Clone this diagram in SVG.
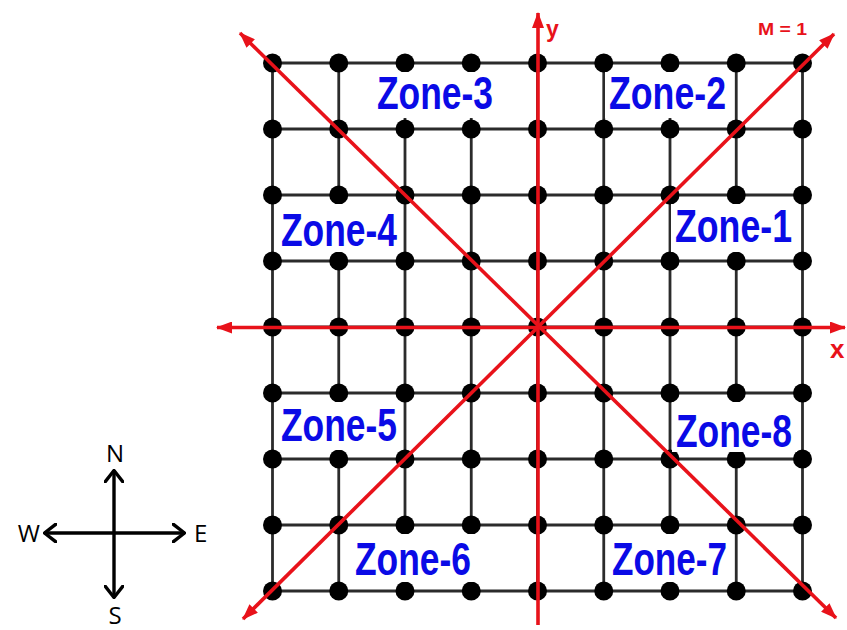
<svg xmlns="http://www.w3.org/2000/svg" width="847" height="630" viewBox="0 0 847 630">
<style>
.grid line{stroke:#2b2b2b;stroke-width:2.8}
.dots circle{fill:#000}
.zone rect{fill:#fff}
.zone text{font-family:"Liberation Sans",Arial,sans-serif;font-size:46px;font-weight:bold;fill:#0a0ae6}
.red{stroke:#e8121a;stroke-width:3.6;fill:none}
.rt{font-family:"Liberation Sans",Arial,sans-serif;font-weight:bold;fill:#e8121a}
.cmp{stroke:#000;stroke-width:3.4;fill:none}
.ct{font-family:"Open Sans","Noto Sans",sans-serif;font-size:24px;fill:#000}
</style>
<defs>
<marker id="ra" viewBox="0 0 16 12" refX="15" refY="6" markerWidth="16" markerHeight="12" markerUnits="userSpaceOnUse" orient="auto-start-reverse">
<path d="M0,0 L16,6 L0,12 Z" fill="#e8121a"/>
</marker>
<marker id="ca" viewBox="0 0 14 20" refX="13" refY="10" markerWidth="14" markerHeight="20" markerUnits="userSpaceOnUse" orient="auto-start-reverse">
<path d="M1,1 L12.5,10 L1,19" fill="none" stroke="#000" stroke-width="3.4" stroke-linecap="round" stroke-linejoin="round"/>
</marker>
</defs>
<rect width="847" height="630" fill="#fff"/>
<g class="grid" id="grid">
<line x1="272.5" y1="63" x2="802.5" y2="63"/>
<line x1="272.5" y1="129" x2="802.5" y2="129"/>
<line x1="272.5" y1="195" x2="802.5" y2="195"/>
<line x1="272.5" y1="261" x2="802.5" y2="261"/>
<line x1="272.5" y1="327" x2="802.5" y2="327"/>
<line x1="272.5" y1="393" x2="802.5" y2="393"/>
<line x1="272.5" y1="459" x2="802.5" y2="459"/>
<line x1="272.5" y1="525" x2="802.5" y2="525"/>
<line x1="272.5" y1="591" x2="802.5" y2="591"/>
<line x1="272.5" y1="63" x2="272.5" y2="591"/>
<line x1="338.75" y1="63" x2="338.75" y2="591"/>
<line x1="405" y1="63" x2="405" y2="591"/>
<line x1="471.25" y1="63" x2="471.25" y2="591"/>
<line x1="537.5" y1="63" x2="537.5" y2="591"/>
<line x1="603.75" y1="63" x2="603.75" y2="591"/>
<line x1="670" y1="63" x2="670" y2="591"/>
<line x1="736.25" y1="63" x2="736.25" y2="591"/>
<line x1="802.5" y1="63" x2="802.5" y2="591"/>
</g>
<g class="dots" id="dots">
<circle cx="272.5" cy="63" r="9.5"/><circle cx="338.75" cy="63" r="9.5"/><circle cx="405" cy="63" r="9.5"/><circle cx="471.25" cy="63" r="9.5"/><circle cx="537.5" cy="63" r="9.5"/><circle cx="603.75" cy="63" r="9.5"/><circle cx="670" cy="63" r="9.5"/><circle cx="736.25" cy="63" r="9.5"/><circle cx="802.5" cy="63" r="9.5"/>
<circle cx="272.5" cy="129" r="9.5"/><circle cx="338.75" cy="129" r="9.5"/><circle cx="405" cy="129" r="9.5"/><circle cx="471.25" cy="129" r="9.5"/><circle cx="537.5" cy="129" r="9.5"/><circle cx="603.75" cy="129" r="9.5"/><circle cx="670" cy="129" r="9.5"/><circle cx="736.25" cy="129" r="9.5"/><circle cx="802.5" cy="129" r="9.5"/>
<circle cx="272.5" cy="195" r="9.5"/><circle cx="338.75" cy="195" r="9.5"/><circle cx="405" cy="195" r="9.5"/><circle cx="471.25" cy="195" r="9.5"/><circle cx="537.5" cy="195" r="9.5"/><circle cx="603.75" cy="195" r="9.5"/><circle cx="670" cy="195" r="9.5"/><circle cx="736.25" cy="195" r="9.5"/><circle cx="802.5" cy="195" r="9.5"/>
<circle cx="272.5" cy="261" r="9.5"/><circle cx="338.75" cy="261" r="9.5"/><circle cx="405" cy="261" r="9.5"/><circle cx="471.25" cy="261" r="9.5"/><circle cx="537.5" cy="261" r="9.5"/><circle cx="603.75" cy="261" r="9.5"/><circle cx="670" cy="261" r="9.5"/><circle cx="736.25" cy="261" r="9.5"/><circle cx="802.5" cy="261" r="9.5"/>
<circle cx="272.5" cy="327" r="9.5"/><circle cx="338.75" cy="327" r="9.5"/><circle cx="405" cy="327" r="9.5"/><circle cx="471.25" cy="327" r="9.5"/><circle cx="537.5" cy="327" r="9.5"/><circle cx="603.75" cy="327" r="9.5"/><circle cx="670" cy="327" r="9.5"/><circle cx="736.25" cy="327" r="9.5"/><circle cx="802.5" cy="327" r="9.5"/>
<circle cx="272.5" cy="393" r="9.5"/><circle cx="338.75" cy="393" r="9.5"/><circle cx="405" cy="393" r="9.5"/><circle cx="471.25" cy="393" r="9.5"/><circle cx="537.5" cy="393" r="9.5"/><circle cx="603.75" cy="393" r="9.5"/><circle cx="670" cy="393" r="9.5"/><circle cx="736.25" cy="393" r="9.5"/><circle cx="802.5" cy="393" r="9.5"/>
<circle cx="272.5" cy="459" r="9.5"/><circle cx="338.75" cy="459" r="9.5"/><circle cx="405" cy="459" r="9.5"/><circle cx="471.25" cy="459" r="9.5"/><circle cx="537.5" cy="459" r="9.5"/><circle cx="603.75" cy="459" r="9.5"/><circle cx="670" cy="459" r="9.5"/><circle cx="736.25" cy="459" r="9.5"/><circle cx="802.5" cy="459" r="9.5"/>
<circle cx="272.5" cy="525" r="9.5"/><circle cx="338.75" cy="525" r="9.5"/><circle cx="405" cy="525" r="9.5"/><circle cx="471.25" cy="525" r="9.5"/><circle cx="537.5" cy="525" r="9.5"/><circle cx="603.75" cy="525" r="9.5"/><circle cx="670" cy="525" r="9.5"/><circle cx="736.25" cy="525" r="9.5"/><circle cx="802.5" cy="525" r="9.5"/>
<circle cx="272.5" cy="591" r="9.5"/><circle cx="338.75" cy="591" r="9.5"/><circle cx="405" cy="591" r="9.5"/><circle cx="471.25" cy="591" r="9.5"/><circle cx="537.5" cy="591" r="9.5"/><circle cx="603.75" cy="591" r="9.5"/><circle cx="670" cy="591" r="9.5"/><circle cx="736.25" cy="591" r="9.5"/><circle cx="802.5" cy="591" r="9.5"/>
</g>
<g class="zone" id="zone-3"><rect x="373" y="72" width="125" height="46"/><text x="377" y="109" textLength="116" lengthAdjust="spacingAndGlyphs">Zone-3</text></g>
<g class="zone" id="zone-2"><rect x="605" y="72" width="126" height="46"/><text x="609" y="109" textLength="117" lengthAdjust="spacingAndGlyphs">Zone-2</text></g>
<g class="zone" id="zone-4"><rect x="276" y="204" width="125" height="48"/><text x="281" y="246" textLength="116" lengthAdjust="spacingAndGlyphs">Zone-4</text></g>
<g class="zone" id="zone-1"><rect x="671" y="204" width="125" height="48"/><text x="675" y="242" textLength="117" lengthAdjust="spacingAndGlyphs">Zone-1</text></g>
<g class="zone" id="zone-5"><rect x="277" y="402" width="125" height="48"/><text x="281" y="441" textLength="116" lengthAdjust="spacingAndGlyphs">Zone-5</text></g>
<g class="zone" id="zone-8"><rect x="672" y="402" width="125" height="50"/><text x="676" y="447" textLength="116" lengthAdjust="spacingAndGlyphs">Zone-8</text></g>
<g class="zone" id="zone-6"><rect x="351" y="534" width="125" height="48"/><text x="355" y="575" textLength="116" lengthAdjust="spacingAndGlyphs">Zone-6</text></g>
<g class="zone" id="zone-7"><rect x="607" y="534" width="126" height="48"/><text x="612" y="575" textLength="115" lengthAdjust="spacingAndGlyphs">Zone-7</text></g>
<g id="connectors">
<line class="red" x1="217" y1="327.5" x2="845" y2="327.5" marker-start="url(#ra)" marker-end="url(#ra)"/>
<line class="red" x1="538" y1="625" x2="538" y2="13" marker-end="url(#ra)"/>
<line class="red" x1="836" y1="618" x2="240" y2="33" marker-start="url(#ra)" marker-end="url(#ra)"/>
<line class="red" x1="243" y1="619" x2="834" y2="34" marker-start="url(#ra)" marker-end="url(#ra)"/>
</g>
<text class="rt" x="546" y="37" font-size="23">y</text>
<text class="rt" x="830" y="358" font-size="26">x</text>
<text class="rt" x="758" y="35" font-size="17" textLength="49" lengthAdjust="spacingAndGlyphs">M = 1</text>
<g id="compass">
<line class="cmp" x1="114" y1="598" x2="114" y2="470" marker-start="url(#ca)" marker-end="url(#ca)"/>
<line class="cmp" x1="44" y1="533" x2="185" y2="533" marker-start="url(#ca)" marker-end="url(#ca)"/>
<text class="ct" x="115" y="462" text-anchor="middle">N</text>
<text class="ct" x="115" y="624" text-anchor="middle">S</text>
<text class="ct" x="194" y="542">E</text>
<text class="ct" x="40" y="542" text-anchor="end">W</text>
</g>
</svg>
